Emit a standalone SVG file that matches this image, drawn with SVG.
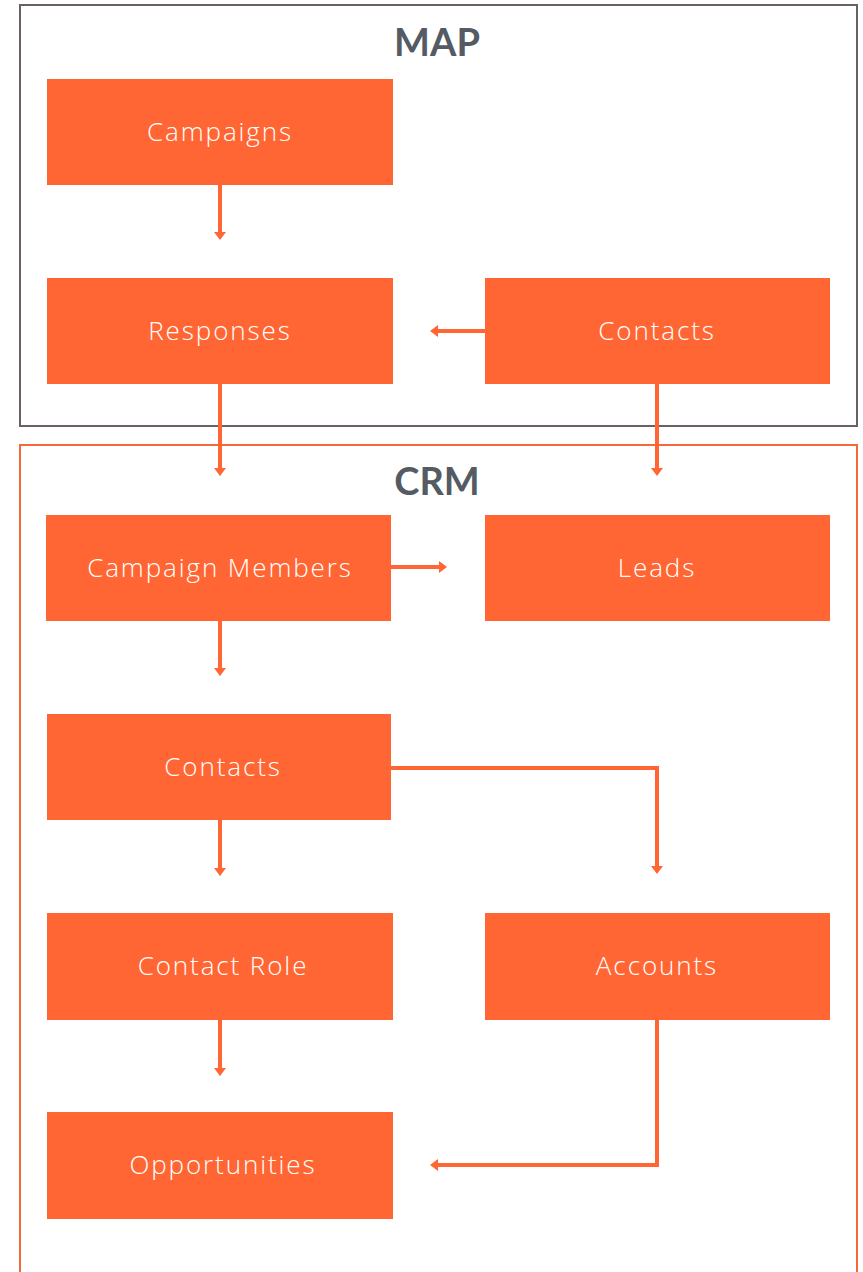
<svg xmlns="http://www.w3.org/2000/svg" width="863" height="1272" viewBox="0 0 863 1272">
<defs>
<style>
.node rect{fill:#ff6633;}
.node text{fill:#ffffff;font-family:"Open Sans","Liberation Sans",sans-serif;font-weight:300;font-size:26px;letter-spacing:1.9px;text-anchor:middle;dominant-baseline:central;}
.title{fill:#545b63;font-family:"Lato","Liberation Sans",sans-serif;font-weight:bold;font-size:38px;text-anchor:middle;}
.conn{fill:none;stroke:#ff6633;stroke-width:4;marker-end:url(#ah);}
</style>
<marker id="ah" markerUnits="userSpaceOnUse" viewBox="0 0 8 12" refX="2" refY="6" markerWidth="8" markerHeight="12" orient="auto">
<path d="M0,0 L8,6 L0,12 Z" fill="#ff6633"/>
</marker>
</defs>
<rect id="map-frame" x="20" y="5" width="837" height="421" fill="#ffffff" stroke="#6b6066" stroke-width="2"/>
<rect id="crm-frame" x="20" y="445" width="837" height="840" fill="none" stroke="#f4693a" stroke-width="2"/>
<text class="title" x="437" y="56">MAP</text>
<text class="title" x="437" y="495">CRM</text>
<g id="connectors">
<path class="conn" d="M220,185 V234"/>
<path class="conn" d="M485,331 H436"/>
<path class="conn" d="M220,384 V470"/>
<path class="conn" d="M657,384 V470"/>
<path class="conn" d="M391,567 H441"/>
<path class="conn" d="M220,621 V670"/>
<path class="conn" d="M391,768 H657 V868"/>
<path class="conn" d="M220,820 V870"/>
<path class="conn" d="M220,1020 V1070"/>
<path class="conn" d="M657,1020 V1165 H436"/>
</g>
<g id="campaigns" class="node"><rect x="47" y="79" width="346" height="106"/><text x="220" y="131">Campaigns</text></g>
<g id="responses" class="node"><rect x="47" y="278" width="346" height="106"/><text x="220" y="330">Responses</text></g>
<g id="map-contacts" class="node"><rect x="485" y="278" width="345" height="106"/><text x="657" y="330">Contacts</text></g>
<g id="campaign-members" class="node"><rect x="46" y="515" width="345" height="106"/><text x="220" y="567">Campaign Members</text></g>
<g id="leads" class="node"><rect x="485" y="515" width="345" height="106"/><text x="657" y="567">Leads</text></g>
<g id="crm-contacts" class="node"><rect x="47" y="714" width="344" height="106"/><text x="223" y="766">Contacts</text></g>
<g id="contact-role" class="node"><rect x="47" y="913" width="346" height="107"/><text x="223" y="965">Contact Role</text></g>
<g id="accounts" class="node"><rect x="485" y="913" width="345" height="107"/><text x="657" y="965">Accounts</text></g>
<g id="opportunities" class="node"><rect x="47" y="1112" width="346" height="107"/><text x="223" y="1164">Opportunities</text></g>
</svg>
